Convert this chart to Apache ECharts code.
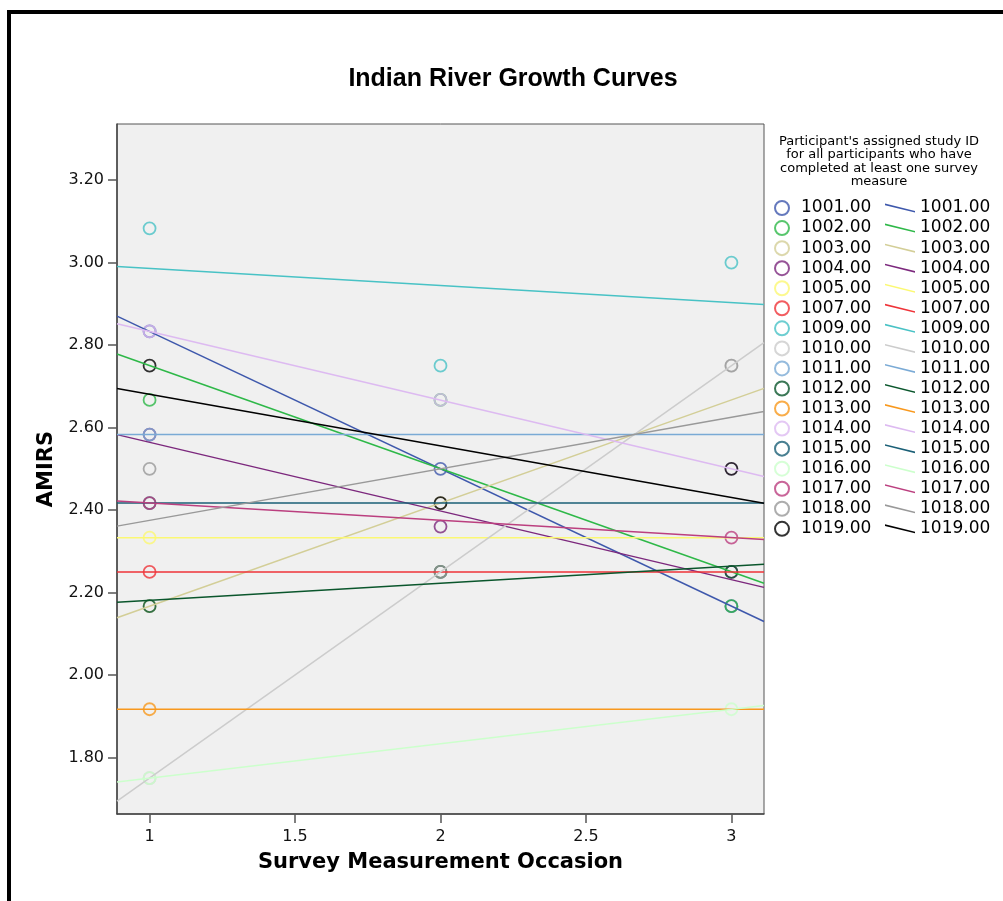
<!DOCTYPE html>
<html>
<head>
<meta charset="utf-8">
<script src="https://cdn.jsdelivr.net/npm/echarts@6/dist/echarts.min.js"></script>
<style>html,body{margin:0;padding:0;background:#fff}#c{width:1003px;height:901px}</style>
</head>
<body>
<div id="c"></div>
<script>
// ---- data ----
const ids = ['1001.00','1002.00','1003.00','1004.00','1005.00','1007.00','1009.00','1010.00','1011.00','1012.00','1013.00','1014.00','1015.00','1016.00','1017.00','1018.00','1019.00'];
const occasions = [1, 2, 3];
const amirsOcc1 = [2.833, 2.667, 2.167, 2.583, 2.333, 2.25, 3.083, 1.75, 2.583, 2.167, 1.917, 2.833, 2.417, 1.75, 2.417, 2.5, 2.75];
const amirsOcc2 = [2.5, 2.667, 2.417, 2.36, null, null, 2.75, 2.25, null, 2.25, null, 2.667, null, null, null, 2.25, 2.417];
const amirsOcc3 = [2.167, 2.167, null, 2.25, null, null, 3.0, 2.75, null, 2.25, null, 2.5, null, 1.917, 2.333, 2.75, 2.5];
const xTicks = [1, 1.5, 2, 2.5, 3];
const yTicks = [1.8, 2.0, 2.2, 2.4, 2.6, 2.8, 3.0, 3.2];
const colors = ['#3e58ac','#2eb848','#d3ce97','#7c287d','#fbf873','#ef3338','#48c2c5','#cccccc','#7aaad5','#0a562c','#f8981d','#ddbaf1','#1a5f76','#ccffcc','#bb3f7f','#999999','#000000'];

const X_MIN = 0.888, X_MAX = 3.112, Y_MIN = 1.663, Y_MAX = 3.336;
const occData = [amirsOcc1, amirsOcc2, amirsOcc3];

function fit(i) {
  const pts = [];
  occasions.forEach((x, k) => { const v = occData[k][i]; if (v != null) pts.push([x, v]); });
  const n = pts.length;
  const mx = pts.reduce((s, p) => s + p[0], 0) / n;
  const my = pts.reduce((s, p) => s + p[1], 0) / n;
  let sxy = 0, sxx = 0;
  pts.forEach(p => { sxy += (p[0] - mx) * (p[1] - my); sxx += (p[0] - mx) * (p[0] - mx); });
  const b = sxx > 0 ? sxy / sxx : 0;
  return { pts, f: x => my + b * (x - mx) };
}

const lineSeries = [], pointSeries = [];
ids.forEach((id, i) => {
  const r = fit(i);
  lineSeries.push({
    name: 'L' + id, type: 'line', color: colors[i], silent: true, animation: false,
    symbol: 'none', showSymbol: false, clip: true,
    lineStyle: { width: 1.5, color: colors[i] },
    data: [[X_MIN, r.f(X_MIN)], [X_MAX, r.f(X_MAX)]]
  });
  pointSeries.push({
    name: 'P' + id, type: 'scatter', silent: true, animation: false,
    symbol: 'circle', symbolSize: 12,
    itemStyle: { color: 'rgba(0,0,0,0)', borderColor: colors[i], borderWidth: 1.8 },
    data: r.pts
  });
});

const font = 'DejaVu Sans';
const chart = echarts.init(document.getElementById('c'), null, { renderer: 'canvas' });
chart.setOption({
  animation: false,
  backgroundColor: '#ffffff',
  grid: { left: 117, top: 124, width: 647, height: 690, show: true, backgroundColor: '#f0f0f0', borderColor: '#555', borderWidth: 1 },
  xAxis: {
    type: 'value', min: X_MIN, max: X_MAX,
    axisLine: { show: true, onZero: false, lineStyle: { color: '#444', width: 1.5 } },
    splitLine: { show: false },
    axisTick: { show: true, customValues: xTicks, length: 9, lineStyle: { color: '#555', width: 1.5 } },
    axisLabel: { customValues: xTicks, formatter: v => String(v), fontSize: 16, fontFamily: font, color: '#111', margin: 15 },
    name: 'Survey Measurement Occasion', nameLocation: 'middle', nameGap: 38,
    nameTextStyle: { fontSize: 21, fontWeight: 'bold', fontFamily: font, color: '#000' }
  },
  yAxis: {
    type: 'value', min: Y_MIN, max: Y_MAX,
    axisLine: { show: true, onZero: false, lineStyle: { color: '#444', width: 1.5 } },
    splitLine: { show: false },
    axisTick: { show: true, customValues: yTicks, length: 9, lineStyle: { color: '#555', width: 1.5 } },
    axisLabel: { customValues: yTicks, formatter: v => v.toFixed(2), fontSize: 16, fontFamily: font, color: '#111', margin: 13 },
    name: 'AMIRS', nameLocation: 'middle', nameGap: 54, nameRotate: 90,
    nameTextStyle: { fontSize: 21, fontWeight: 'bold', fontFamily: font, color: '#000' }
  },
  legend: [
    {
      data: pointSeries.map(s => s.name), orient: 'vertical', left: 774, top: 198, padding: 0,
      itemWidth: 28, itemHeight: 14, itemGap: 0, selectedMode: false,
      formatter: n => n.slice(1),
      textStyle: { fontSize: 17, lineHeight: 20.05, fontFamily: font, color: '#000' }
    },
    {
      data: lineSeries.map(s => s.name), orient: 'vertical', left: 885, top: 198, padding: 0,
      itemWidth: 30, itemHeight: 9, itemGap: 0, selectedMode: false,
      icon: 'path://M0,0L30,7.4L30,9L0,1.6Z',
      itemStyle: { borderWidth: 0 },
      formatter: n => n.slice(1),
      textStyle: { fontSize: 17, lineHeight: 20.05, fontFamily: font, color: '#000' }
    }
  ],
  graphic: [
    { type: 'rect', silent: true, shape: { x: 9, y: 12, width: 1300, height: 1300 }, style: { fill: 'none', stroke: '#000', lineWidth: 4 } },
    { type: 'text', silent: true, x: 513, y: 79, style: { text: 'Indian River Growth Curves', fontSize: 25, fontWeight: 'bold', fontFamily: 'Liberation Sans', fill: '#000', align: 'center', verticalAlign: 'middle' } },
    { type: 'text', silent: true, x: 879, y: 135, style: { text: "Participant's assigned study ID\nfor all participants who have\ncompleted at least one survey\nmeasure", fontSize: 13, lineHeight: 13.3, fontFamily: font, fill: '#000', align: 'center', verticalAlign: 'top' } }
  ],
  series: lineSeries.concat(pointSeries)
});
</script>
</body>
</html>
